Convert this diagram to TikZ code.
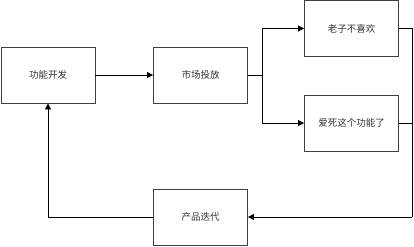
\documentclass[tikz,border=0pt]{standalone}
\usepackage{fontspec}
\newfontfamily\cjk{Noto Sans CJK SC}
\usetikzlibrary{arrows.meta,calc}
\begin{document}
\begin{tikzpicture}[x=1pt,y=-1pt,
  box/.style={draw=black!75,line width=0.9pt,minimum width=94pt,minimum height=56pt,inner sep=0pt,font=\cjk\fontsize{9.5}{11}\selectfont,text=black!80},
  conn/.style={draw=black,line width=0.9pt},
  arr/.style={conn,-{Triangle[length=6pt,width=6pt]}}]
\useasboundingbox (0,0) rectangle (414,246);
\node[box] (b1) at (48,75) {功能开发};
\node[box] (b2) at (200.5,75) {市场投放};
\node[box] (b3) at (351.5,28.5) {老子不喜欢};
\node[box] (b4) at (351.5,123) {爱死这个功能了};
\node[box] (b5) at (200.5,217) {产品迭代};
\coordinate (j) at (262,75);
\coordinate (r) at (412,217);
\draw[arr] (b1) -- (b2);
\draw[conn] (b2.east) -- (j);
\draw[arr] (j) |- (b3.west);
\draw[arr] (j) |- (b4.west);
\draw[conn] (b3.east) -| (r);
\draw[conn] (b4.east) -- (b4.east -| r);
\draw[arr] (r) -- (b5.east);
\draw[arr] (b5.west) -| (b1.south);
\end{tikzpicture}
\end{document}
